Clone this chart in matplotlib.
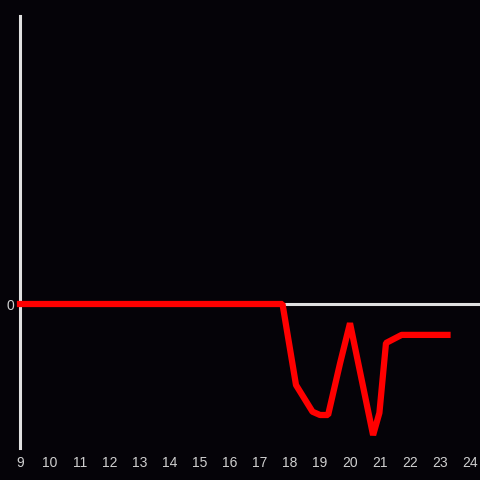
import matplotlib
matplotlib.use("Agg")
import matplotlib.pyplot as plt

# hours of the day and the value (arbitrary units)
hours = [9.0, 17.75, 18.2, 18.75, 19.0, 19.27, 19.67, 20.0, 20.77, 20.98, 21.2, 21.72, 23.25]
values = [0.0, 0.0, -2.7, -3.59, -3.7, -3.7, -1.97, -0.64, -4.37, -3.63, -1.3, -1.03, -1.03]
x_ticks = list(range(9, 25))
y_ticks = [0]

BG = "#050308"
AXIS = "#e0e0e0"
TEXT = "#cfcfcf"

plt.rcParams["font.family"] = ["Liberation Sans", "DejaVu Sans"]

fig = plt.figure(figsize=(4.8, 4.8), dpi=100, facecolor=BG)
ax = fig.add_axes([20 / 480, 1 - 448 / 480, 1 - 20 / 480, 432 / 480], facecolor=BG)

ax.axhline(0, color=AXIS, linewidth=2.2, zorder=1)
ax.plot(hours, values, color="#ff0000", linewidth=4.5, solid_joinstyle="bevel",
        solid_capstyle="projecting", clip_on=False, zorder=5)

ax.set_xlim(9, 9 + 460 / 30)
ax.set_ylim(-4.8, 9.6)
ax.set_xticks(x_ticks)
ax.set_yticks(y_ticks)
ax.tick_params(length=0, colors=TEXT, labelsize=10, pad=6)
ax.tick_params(axis="y", pad=4)

for side in ["top", "right", "bottom"]:
    ax.spines[side].set_visible(False)
ax.spines["left"].set_color(AXIS)
ax.spines["left"].set_linewidth(2.2)
ax.spines["left"].set_zorder(2)

fig.savefig("out.png", dpi=100, facecolor=BG)
